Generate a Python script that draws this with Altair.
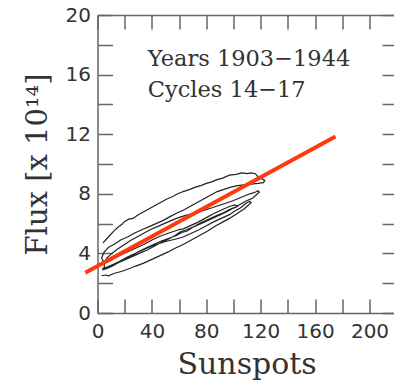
import altair as alt
import pandas as pd

# ---- data ----
# cycle 14
c14_x = [3, 6, 8, 12, 18, 24, 28, 34, 40, 46, 52, 57, 63, 69, 75, 81, 87, 92, 97, 103, 108, 111, 113,
         112, 109, 105, 101, 97, 91, 85, 80, 75, 69, 63, 57, 50, 45, 40, 35, 30, 25, 20, 15, 10, 6, 4]
c14_y = [2.5, 2.55, 2.5, 2.65, 2.8, 3.0, 3.15, 3.35, 3.6, 3.85, 4.1, 4.35, 4.6, 4.9, 5.2, 5.5, 5.85, 6.1, 6.35, 6.7, 7.0, 7.25, 7.4,
         7.5, 7.35, 7.05, 6.85, 6.6, 6.35, 6.1, 5.85, 5.6, 5.35, 5.1, 4.95, 4.8, 4.65, 4.5, 4.3, 4.1, 3.85, 3.6, 3.35, 3.1, 2.95, 2.9]
# cycle 15
c15_x = [4, 8, 12, 17, 22, 27, 32, 37, 42, 47, 52, 57, 61, 66, 71, 76, 82, 88, 93, 97, 101, 106, 110, 114, 117, 119,
         118, 116, 112, 108, 104, 100, 97, 92, 87, 82, 77, 72, 67, 63, 58, 54, 49, 44, 39, 34, 29, 24, 19, 14, 10, 7, 5]
c15_y = [3.0, 3.1, 3.25, 3.45, 3.65, 3.85, 4.05, 4.25, 4.5, 4.75, 4.95, 5.2, 5.45, 5.6, 5.8, 6.05, 6.3, 6.55, 6.75, 6.95, 7.1, 7.35, 7.55, 7.7, 7.95, 8.1,
         8.2, 8.1, 8.0, 7.85, 7.7, 7.55, 7.45, 7.3, 7.15, 7.0, 6.85, 6.7, 6.6, 6.5, 6.35, 6.2, 6.0, 5.8, 5.6, 5.35, 5.1, 4.85, 4.55, 4.25, 3.95, 3.7, 3.4]
# cycle 16
c16_x = [5, 10, 16, 22, 28, 34, 40, 46, 52, 58, 62, 66, 70, 76, 82, 88, 94, 99, 103,
         101, 97, 92, 86, 80, 74, 68, 63, 60, 57, 52, 46, 40, 34, 28, 22, 16, 11, 7, 4]
c16_y = [3.0, 3.2, 3.45, 3.75, 4.0, 4.3, 4.55, 4.8, 5.0, 5.2, 5.4, 5.5, 5.75, 6.0, 6.25, 6.5, 6.75, 7.0, 7.15,
         7.25, 7.15, 6.95, 6.7, 6.4, 6.1, 5.85, 5.65, 5.6, 5.5, 5.35, 5.15, 4.9, 4.6, 4.35, 4.1, 3.85, 3.6, 3.4, 3.5]
# cycle 17
c17_x = [3, 5, 8, 12, 17, 22, 27, 33, 38, 43, 48, 53, 58, 63, 68, 73, 78, 83, 88, 93, 98, 103, 108, 113, 118, 122, 123,
         121, 118, 116, 113, 110, 106, 102, 97, 92, 88, 84, 80, 76, 72, 68, 63, 59, 55, 51, 47, 43, 38, 34, 30, 26, 23, 20, 18, 15, 12, 9, 6, 4]
c17_y = [3.7, 4.1, 4.4, 4.6, 4.9, 5.1, 5.35, 5.6, 5.8, 6.0, 6.2, 6.45, 6.7, 6.9, 7.15, 7.4, 7.65, 7.9, 8.15, 8.3, 8.45, 8.55, 8.6, 8.65, 8.7, 8.75, 8.9,
         9.0, 9.15, 9.35, 9.4, 9.35, 9.4, 9.3, 9.25, 9.05, 8.95, 8.8, 8.7, 8.55, 8.45, 8.3, 8.15, 8.0, 7.8, 7.65, 7.45, 7.25, 7.0, 6.8, 6.6, 6.35, 6.3, 6.15, 5.95, 5.75, 5.5, 5.2, 4.9, 4.7]

fit_x = [-9, 175]
fit_y = [2.7, 11.85]

x_ticks = [0, 20, 40, 60, 80, 100, 120, 140, 160, 180, 200]
y_ticks = [0, 2, 4, 6, 8, 10, 12, 14, 16, 18, 20]

annot_1 = "Years 1903\u22121944"
annot_2 = "Cycles 14\u221217"
x_title = "Sunspots"
y_title = "Flux [x 10\u00b9\u2074]"

SERIF = "DejaVu Serif, Liberation Serif, serif"

# ---- tables ----
sx = c14_x + c15_x + c16_x + c17_x
fy = c14_y + c15_y + c16_y + c17_y
loops = pd.DataFrame({"s": sx, "f": fy, "i": list(range(len(sx)))})
fit = pd.DataFrame({"s": fit_x, "f": fit_y})
one = pd.DataFrame({"k": [0]})

xs = alt.Scale(domain=[0, 218], nice=False, zero=False)
ys = alt.Scale(domain=[0, 20], nice=False, zero=False)

ax_bottom = alt.Axis(orient="bottom", values=x_ticks, offset=-14, tickSize=14, domain=False,
                     labelExpr="datum.value % 40 == 0 ? datum.label : ''", labelPadding=8,
                     labelFlush=False, labelOverlap=False, title=None)
ax_left = alt.Axis(orient="left", values=y_ticks, offset=-15, tickSize=15, domain=False,
                   labelExpr="datum.value % 4 == 0 ? datum.label : ''", labelPadding=7,
                   labelFlush=False, labelOverlap=False, title=y_title, titlePadding=13,
                   titleFont=SERIF, titleFontSize=29, titleFontWeight="normal", titleColor="#333")
ax_top = alt.Axis(orient="top", values=x_ticks, offset=-14, tickSize=14, domain=False, labels=False,
                  title=None)
ax_right = alt.Axis(orient="right", values=y_ticks, offset=-12, tickSize=12, domain=False, labels=False,
                    title=None)
fr_bottom = alt.Axis(orient="bottom", ticks=False, labels=False, domain=True, title=None)
fr_left = alt.Axis(orient="left", ticks=False, labels=False, domain=True, title=None)
fr_top = alt.Axis(orient="top", ticks=False, labels=False, domain=True, title=None)

loop_layer = alt.Chart(loops).mark_line(color="#222", strokeWidth=1.2).encode(
    x=alt.X("s:Q", scale=xs, axis=ax_bottom),
    y=alt.Y("f:Q", scale=ys, axis=ax_left),
    order="i:Q",
)

fit_layer = alt.Chart(fit).mark_line(color="#ff3a10", strokeWidth=4).encode(
    x=alt.X("s:Q", scale=xs, axis=ax_top),
    y=alt.Y("f:Q", scale=ys, axis=ax_right),
)

txt_style = dict(align="left", baseline="middle", font=SERIF, fontSize=22.5, color="#333")
text1 = alt.Chart(one).mark_text(**txt_style).encode(
    x=alt.XDatum(37, type="quantitative", scale=xs, axis=fr_bottom),
    y=alt.YDatum(17.05, type="quantitative", scale=ys, axis=fr_left),
    text=alt.value(annot_1),
)
text2 = alt.Chart(one).mark_text(**txt_style).encode(
    x=alt.XDatum(37, type="quantitative", scale=xs, axis=fr_top),
    y=alt.YDatum(15.0, type="quantitative", scale=ys, axis=None),
    text=alt.value(annot_2),
)
# x-axis title, centred under the full 0-220 frame
xtitle = alt.Chart(one).mark_text(align="center", baseline="alphabetic", font=SERIF,
                                  fontSize=30, color="#333").encode(
    x=alt.XDatum(110, type="quantitative", scale=xs, axis=None),
    y=alt.value(359),
    text=alt.value(x_title),
)

chart = alt.layer(loop_layer, fit_layer, text1, text2, xtitle).resolve_axis(
    x="independent", y="independent"
).properties(
    width=296.5, height=298,
    autosize=alt.AutoSizeParams(type="none"),
    padding={"left": 97.5, "top": 15, "right": 0, "bottom": 71},
    background="white",
).configure_view(stroke=None).configure_axis(
    grid=False, tickColor="#666", tickWidth=1.5, domainColor="#666", domainWidth=1.5,
    labelFont="DejaVu Sans", labelFontSize=20, labelColor="#333",
)

chart.save("out.html", embed_options={"renderer": "svg", "actions": False})
